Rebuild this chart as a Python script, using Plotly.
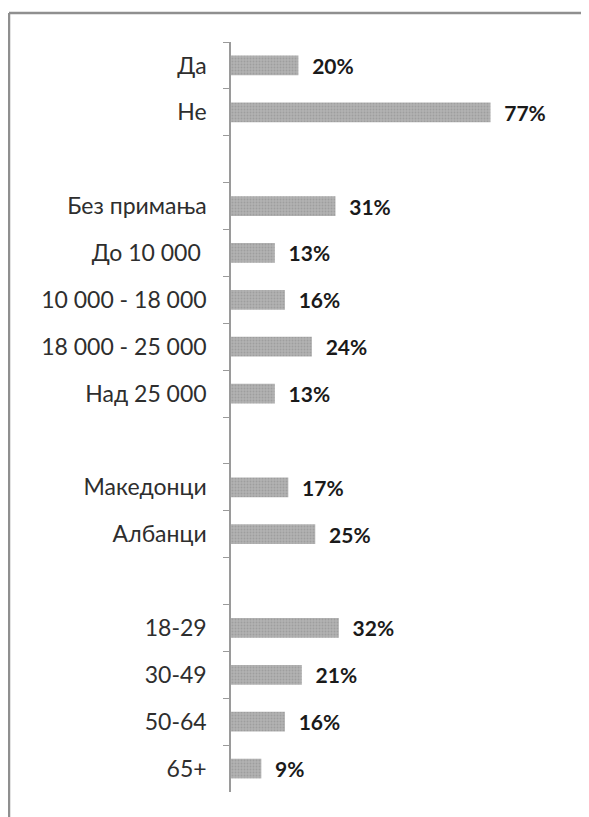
import plotly.graph_objects as go

# Data
categories = ["Да", "Не", " ",
              "Без примања", "До 10 000 ", "10 000 - 18 000", "18 000 - 25 000", "Над 25 000", "  ",
              "Македонци", "Албанци", "   ",
              "18-29", "30-49", "50-64", "65+"]
values = [20, 77, None,
          31, 13, 16, 24, 13, None,
          17, 25, None,
          32, 21, 16, 9]

OFF = 8  # default page body margin
W, H = 589 - OFF, 817 - OFF
ml, mr, mt, mb = 223, 21, 34, 25

FONT = "Lato, Open Sans, sans-serif"

fig = go.Figure()
fig.add_trace(go.Bar(
    y=categories,
    x=values,
    orientation="h",
    width=0.42,
    marker=dict(color="#a9a9a9", line=dict(width=0),
                pattern=dict(shape=".", fgcolor="#8a8a8a", bgcolor="#b2b2b2",
                             size=3, solidity=0.35)),
    text=[("\u00a0\u00a0<b>%d%%</b>" % v) if v is not None else "" for v in values],
    textposition="outside",
    constraintext="none",
    textfont=dict(family=FONT, size=21, color="#1a1a1a"),
    cliponaxis=False,
    hoverinfo="skip",
))

plot_w = W - ml - mr
plot_h = H - mt - mb
fx = lambda px: (px - OFF - ml) / plot_w
fy = lambda py: 1 - (py - OFF - mt) / plot_h

fig.update_layout(
    width=W, height=H,
    margin=dict(l=ml, r=mr, t=mt, b=mb),
    paper_bgcolor="white", plot_bgcolor="white",
    showlegend=False,
    xaxis=dict(range=[0, 100], visible=False, fixedrange=True),
    yaxis=dict(
        type="category",
        categoryorder="array", categoryarray=categories,
        autorange="reversed",
        showline=True, linecolor="#9a9a9a", linewidth=1.5,
        ticks="outside", ticklen=6, tickcolor="#9a9a9a", tickwidth=1,
        tickson="boundaries",
        showgrid=False,
        tickfont=dict(family=FONT, size=23, color="#2e2e2e"),
        ticklabelstandoff=18,
    ),
    bargap=0.58,
    shapes=[
        dict(type="line", xref="paper", yref="paper",
             x0=fx(9), x1=fx(620), y0=fy(13), y1=fy(13),
             line=dict(color="#8f8f8f", width=2.5)),
        dict(type="line", xref="paper", yref="paper",
             x0=fx(9), x1=fx(9), y0=fy(13), y1=fy(850),
             line=dict(color="#8f8f8f", width=2.5)),
    ],
)

fig.write_html("out.html")
